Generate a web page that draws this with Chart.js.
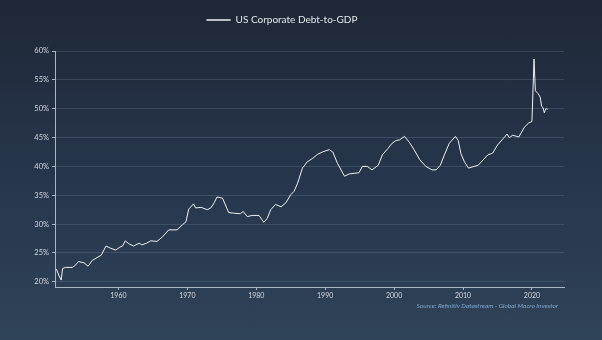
<!DOCTYPE html>
<html>
<head>
<meta charset="utf-8">
<script src="https://cdn.jsdelivr.net/npm/chart.js@4"></script>
<style>
  html, body { margin: 0; padding: 0; }
  body { width: 602px; height: 340px; background: linear-gradient(to bottom, #1e2735 0%, #26344a 45%, #2f4359 100%); overflow: hidden; }
</style>
</head>
<body>
<canvas id="myChart" width="602" height="340"></canvas>
<script>
// decimal years and debt-to-GDP (%)
var years = [1951.0,1951.4,1951.7,1951.9,1952.3,1953.3,1953.7,1954.2,1955.0,1955.6,1956.2,1956.9,1957.5,1958.2,1958.9,1959.6,
  1960.2,1960.6,1961.0,1961.5,1962.2,1963.0,1963.4,1964.1,1964.7,1965.6,1966.4,1967.3,1968.5,1969.3,1969.8,
  1970.2,1970.9,1971.2,1972.0,1972.9,1973.4,1973.9,1974.3,1975.1,1976.0,1976.7,1977.7,1978.1,1978.7,1979.4,
  1980.4,1981.1,1981.6,1982.1,1982.8,1983.6,1984.3,1985.0,1985.5,1986.0,1986.7,1987.4,1988.2,1988.9,1989.6,
  1990.6,1991.1,1991.8,1992.8,1993.5,1994.2,1994.9,1995.4,1996.1,1996.8,1997.7,1998.3,1999.1,1999.7,
  2000.3,2000.8,2001.5,2002.2,2002.9,2003.7,2004.6,2005.5,2006.1,2006.7,2007.3,2008.0,2008.9,2009.3,2009.7,
  2010.2,2010.8,2011.6,2012.2,2012.9,2013.6,2014.3,2015.0,2015.8,2016.4,2016.7,2017.2,2018.1,2018.9,2019.5,
  2020.0,2020.3,2020.5,2020.9,2021.2,2021.4,2021.6,2021.8,2022.0,2022.3]
var debtToGdp = [22.2,21.0,20.3,22.3,22.5,22.5,22.8,23.5,23.3,22.7,23.7,24.2,24.6,26.2,25.8,25.5,
  26.0,26.2,27.1,26.6,26.2,26.7,26.4,26.7,27.1,27.0,27.8,29.0,29.0,29.9,30.4,
  32.6,33.5,32.8,32.9,32.5,32.8,33.7,34.7,34.5,32.0,31.9,31.8,32.2,31.3,31.5,
  31.5,30.3,31.0,32.5,33.4,33.0,33.7,35.1,35.7,37.1,39.7,40.8,41.4,42.1,42.5,
  42.9,42.5,40.5,38.3,38.7,38.8,38.9,40.0,40.0,39.4,40.2,42.0,43.1,44.0,
  44.5,44.6,45.2,44.2,42.9,41.2,40.0,39.4,39.4,40.2,42.0,44.0,45.2,44.5,42.2,
  40.8,39.7,40.0,40.2,41.1,42.0,42.3,43.7,44.8,45.6,45.0,45.4,45.1,46.8,47.5,
  47.8,58.6,53.1,52.6,52.0,50.4,50.2,49.3,50.0,49.9]
var xTicks = [1960,1970,1980,1990,2000,2010,2020]
var yTicks = [20,25,30,35,40,45,50,55,60]
var seriesName = 'US Corporate Debt-to-GDP'
var sourceText = 'Source: Refinitiv Datastream - Global Macro Investor'

var points = []
for (var i=0;i<years.length;i++){
    points.push({x: years[i], y: debtToGdp[i]})
}

var axisColor = '#a9b6c6'
var labelColor = '#d3d9e1'

// source line under the x axis
var sourcePlugin = {
    id: 'sourceNote',
    afterDraw: function(chart){
        var c = chart.ctx
        c.save()
        c.font = 'italic 6.5px Lato'
        c.fillStyle = '#83a9d2'
        c.textAlign = 'right'
        c.textBaseline = 'middle'
        c.fillText(sourceText, 558, 306)
        c.restore()
    }
}

// extra room under the legend so the plot starts lower
var legendGap = {
    id: 'legendGap',
    beforeInit: function(chart){
        var fit = chart.legend.fit
        chart.legend.fit = function(){
            fit.bind(chart.legend)()
            this.height += 16
        }
    }
}

var ctx = document.getElementById('myChart')
var myChart = new Chart(ctx, {
    type: 'line',
    data: {
        datasets: [{
            label: seriesName,
            data: points,
            borderColor: '#eef2f6',
            backgroundColor: '#b9c2cc',
            borderWidth: 1,
            pointRadius: 0,
            tension: 0
        }]
    },
    options: {
        responsive: false,
        animation: false,
        devicePixelRatio: 1,
        layout: { padding: { top: 3, right: 38, bottom: 0, left: 0 } },
        plugins: {
            legend: {
                display: true,
                labels: {
                    color: '#e3e8ee',
                    font: { family: 'Lato', size: 10 },
                    boxWidth: 24,
                    boxHeight: 0,
                    padding: 12
                }
            },
            tooltip: { enabled: false }
        },
        scales: {
            x: {
                type: 'linear',
                min: 1950.8,
                max: 2024.65,
                afterBuildTicks: function(scale){
                    scale.ticks = xTicks.map(function(v){ return {value: v} })
                },
                afterFit: function(scale){ scale.height = 53 },
                border: { color: axisColor, width: 1 },
                grid: { drawOnChartArea: false, drawTicks: true, tickLength: 3, color: axisColor },
                ticks: {
                    color: labelColor,
                    font: { family: 'Lato', size: 7 },
                    padding: 2,
                    maxRotation: 0,
                    callback: function(v){ return String(v) }
                }
            },
            y: {
                min: 19.1,
                max: 60,
                afterBuildTicks: function(scale){
                    scale.ticks = yTicks.map(function(v){ return {value: v} })
                },
                afterFit: function(scale){ scale.width = 55 },
                border: { color: axisColor, width: 1 },
                grid: { color: 'rgba(150,170,195,0.2)', tickColor: axisColor, tickLength: 3, lineWidth: 1 },
                ticks: {
                    color: labelColor,
                    font: { family: 'Lato', size: 7.5 },
                    padding: 3,
                    callback: function(v){ return v + '%' }
                }
            }
        }
    },
    plugins: [sourcePlugin, legendGap]
})
</script>
</body>
</html>
